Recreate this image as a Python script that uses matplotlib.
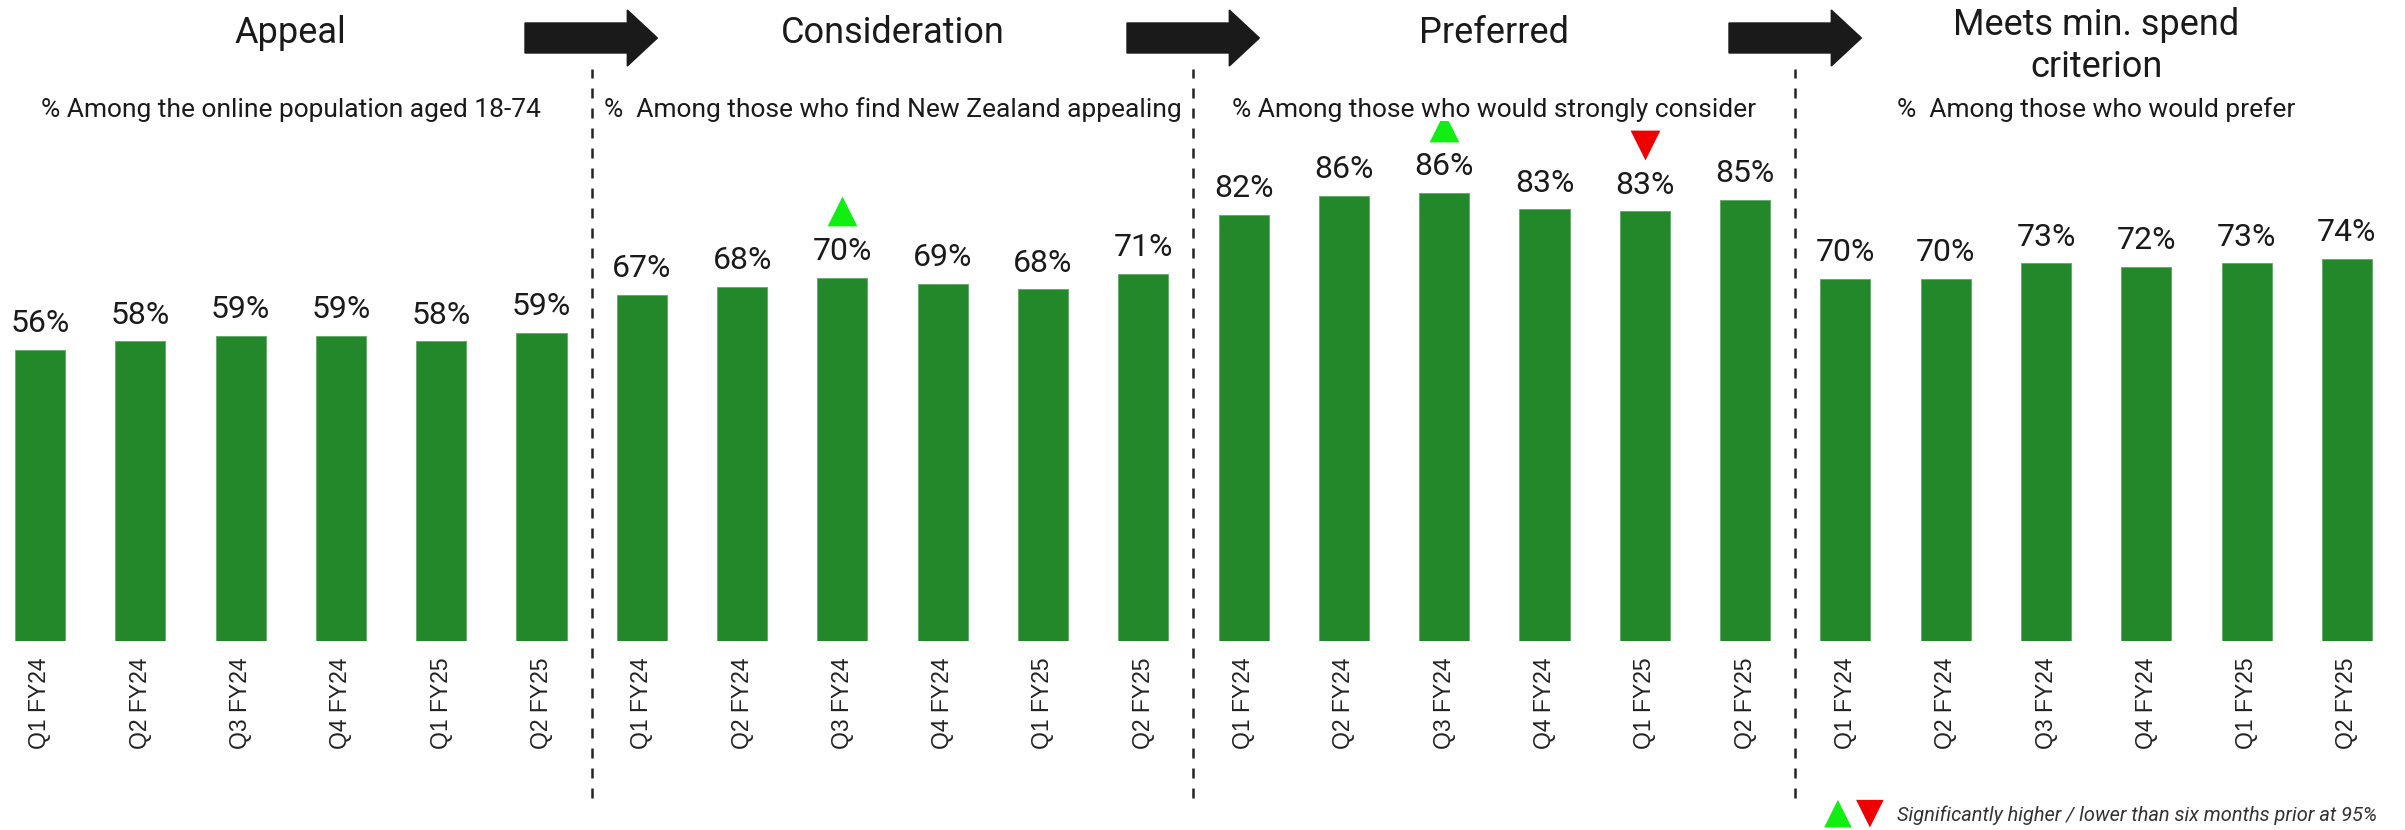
import numpy as np
import matplotlib.pyplot as plt
from matplotlib.patches import FancyArrow

quarters = ['Q1 FY24', 'Q2 FY24', 'Q3 FY24', 'Q4 FY24', 'Q1 FY25', 'Q2 FY25']
stage_titles = ['Appeal', 'Consideration', 'Preferred', 'Meets min. spend\ncriterion']
stage_bases = ['% Among the online population aged 18-74',
               '%  Among those who find New Zealand appealing',
               '% Among those who would strongly consider',
               '%  Among those who would prefer']

appeal = [56.0, 57.6, 58.7, 58.6, 57.6, 59.3]
consideration = [66.6, 68.1, 69.9, 68.6, 67.6, 70.6]
preferred = [82.0, 85.6, 86.1, 83.0, 82.6, 84.8]
meets_min_spend = [69.6, 69.6, 72.6, 72.0, 72.6, 73.5]

# 1 = significantly higher, -1 = significantly lower than six months prior
appeal_sig = [0, 0, 0, 0, 0, 0]
consideration_sig = [0, 0, 1, 0, 0, 0]
preferred_sig = [0, 0, 1, 0, -1, 0]
meets_sig = [0, 0, 0, 0, 0, 0]

stages = [appeal, consideration, preferred, meets_min_spend]
sigs = [appeal_sig, consideration_sig, preferred_sig, meets_sig]

values = np.concatenate(stages)
sig = np.concatenate(sigs)
labels = quarters * len(stages)
pos = np.arange(len(values))

plt.rcParams['font.family'] = ['Roboto', 'DejaVu Sans']
txt_color = '#1a1a1a'

W, H = 2405, 830
fig = plt.figure(figsize=(W / 100, H / 100), dpi=100)
ax = fig.add_axes([0, (H - 641) / H, 1, 520 / H])

bar_green = '#22882a'
ax.bar(pos, values, 0.5, color=bar_green, edgecolor='#5fa866', linewidth=0.6)

for x, v in zip(pos, values):
    ax.annotate('%d%%' % round(v), (x, v), xytext=(0, 19), textcoords='offset points',
                ha='center', va='center', fontsize=23, color=txt_color)

up = sig == 1
down = sig == -1
ax.scatter(pos[up], values[up] + 12.8, marker='^', s=460, color='#11ee11', zorder=3, linewidths=0)
ax.scatter(pos[down], values[down] + 12.8, marker='v', s=460, color='#ee0000', zorder=3, linewidths=0)

ax.set_xlim(-40 / 100.3, (W - 40) / 100.3)
ax.set_ylim(0, 100)
ax.set_xticks(pos)
ax.set_xticklabels(labels, rotation=90, fontsize=16.5, family='Liberation Sans', color='#222222')
ax.tick_params(axis='x', length=0, pad=12)
ax.set_yticks([])
for s in ax.spines.values():
    s.set_visible(False)

n = len(quarters)
for k in range(len(stages)):
    cx = k * n + (n - 1) / 2
    xf = (40 + cx * 100.3) / W
    if '\n' in stage_titles[k]:
        fig.text(xf, 1 - 46 / H, stage_titles[k], ha='center', va='center', fontsize=26,
                 color=txt_color, linespacing=1.2)
    else:
        fig.text(xf, 1 - 33 / H, stage_titles[k], ha='center', va='center', fontsize=26,
                 color=txt_color)
    fig.text(xf, 1 - 110 / H, stage_bases[k], ha='center', va='center', fontsize=19,
             color=txt_color)
    if k > 0:
        xd = k * n - 0.5
        ax.axvline(xd, ymin=-0.302, ymax=1.1, color='#222222', lw=1.8,
                   linestyle=(0, (4, 4)), clip_on=False)
        # stage arrow
        x0 = (525 + (k - 1) * 602) / 100.3 - 40 / 100.3
        ax.add_patch(FancyArrow(x0, (641 - 38) / 5.2, 1.32, 0, width=30 / 5.2,
                                head_width=56 / 5.2, head_length=0.3,
                                length_includes_head=True, color='#1a1a1a', clip_on=False))

# significance key
fig.text(1838 / W, 1 - 813 / H, '\u25B2', color='#11ee11', fontsize=26, ha='center', va='center',
         family='DejaVu Sans')
fig.text(1870 / W, 1 - 813 / H, '\u25BC', color='#ee0000', fontsize=26, ha='center', va='center',
         family='DejaVu Sans')
fig.text(1897 / W, 1 - 815 / H, 'Significantly higher / lower than six months prior at 95%',
         style='italic', fontsize=14.4, color='#333333', ha='left', va='center')

fig.savefig('out.png', dpi=100)
